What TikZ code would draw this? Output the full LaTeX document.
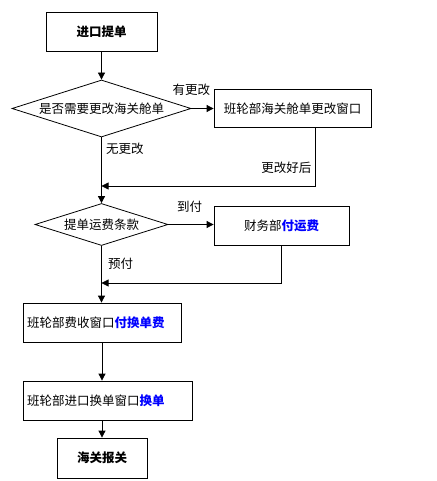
\documentclass[tikz,border=0pt]{standalone}
\usepackage{fontspec}
\setmainfont{Noto Sans CJK SC}
\usetikzlibrary{arrows.meta,shapes.geometric}
\newcommand{\hl}[1]{\textbf{\textcolor{blue}{#1}}}

\begin{document}
\begin{tikzpicture}[x=1pt,y=-1pt,
    box/.style={draw,line width=0.8pt,minimum height=39pt,inner sep=0pt},
    leftbox/.style={box,inner xsep=4pt,align=left},
    cond/.style={draw,diamond,aspect=3,line width=0.8pt,inner sep=0pt},
    line/.style={-{Triangle[length=7pt,width=7pt]},line width=0.8pt},
    font=\fontsize{12.5}{15}\selectfont]
              \useasboundingbox (0,0) rectangle (436,481);

              \node[box,minimum width=111pt] (tidan) at (101.5,31.5) {\textbf{进口提单}};
              \node[cond,minimum width=179pt,minimum height=57pt] (genggai) at (101.5,108.5) {是否需要更改海关舱单};
              \node[box,minimum width=157pt,minimum height=38pt] (gaidan) at (292.5,108.5) {班轮部海关舱单更改窗口};
              \node[cond,minimum width=133pt,minimum height=42pt] (tiaokuan) at (101.5,224.5) {提单运费条款};
              \node[box,minimum width=135pt] (caiwu) at (281.5,225.5) {财务部\hl{付运费}};
              \node[leftbox,text width=150pt] (feishou) at (102,322.5) {班轮部费收窗口\hl{付换单费}};
              \node[leftbox,text width=161pt] (huandan) at (107.5,400.5) {班轮部进口换单窗口\hl{换单}};
              \node[box,minimum width=90pt,minimum height=40pt] (baoguan) at (102,458) {\textbf{海关报关}};

              \coordinate (j1) at (101.5,186);
              \coordinate (j2) at (101.5,283);

              \draw[line] (tidan) -- (genggai);
              \draw[line] (genggai.east) -- node[pos=0,above=9pt] {有更改} (gaidan.west);
              \draw[line] (genggai) -- node[pos=0.17,right=1pt] {无更改} (tiaokuan);
              \draw[line] ([xshift=22.5pt]gaidan.south) |- node[pos=0.34,left=0pt] {更改好后} (j1);
              \draw[line] (tiaokuan.east) -- node[pos=0.47,above=8pt] {到付} (tiaokuan.east -| caiwu.west);
              \draw[line] (tiaokuan) -- node[pos=0.31,right=3pt] {预付} (tiaokuan |- feishou.north);
              \draw[line] (caiwu) |- (j2);
              \draw[line] (feishou) -- (feishou |- huandan.north);
              \draw[line] (baoguan |- huandan.south) -- (baoguan);
            \end{tikzpicture}
\end{document}
